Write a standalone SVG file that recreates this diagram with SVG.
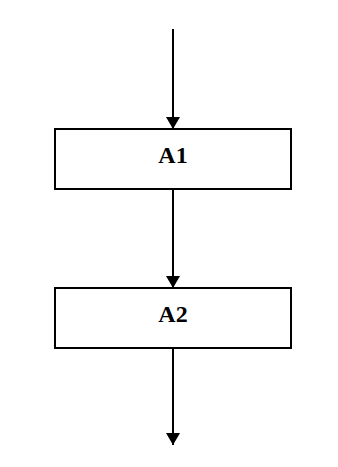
<svg xmlns="http://www.w3.org/2000/svg" width="338" height="467" viewBox="0 0 338 467">
<style>
.box{fill:#fff;stroke:#000;stroke-width:2}
.lbl{font-family:"Liberation Serif","Times New Roman",serif;font-weight:bold;font-size:24px;text-anchor:middle;fill:#000}
.edge{stroke:#000;stroke-width:2;fill:none;marker-end:url(#arr)}
</style>
<defs>
<marker id="arr" markerWidth="12" markerHeight="14" refX="12" refY="7" orient="auto" markerUnits="userSpaceOnUse" viewBox="0 0 12 14">
<path d="M0,0 L12,7 L0,14 Z" fill="#000"/>
</marker>
</defs>
<rect width="338" height="467" fill="#fff"/>
<g id="connectors">
<line class="edge" x1="173" y1="29" x2="173" y2="129"/>
<line class="edge" x1="173" y1="189" x2="173" y2="288"/>
<line class="edge" x1="173" y1="348" x2="173" y2="445"/>
</g>
<g id="A1">
<rect class="box" x="55" y="129" width="236" height="60"/>
<text class="lbl" x="173" y="163">A1</text>
</g>
<g id="A2">
<rect class="box" x="55" y="288" width="236" height="60"/>
<text class="lbl" x="173" y="322">A2</text>
</g>
</svg>
